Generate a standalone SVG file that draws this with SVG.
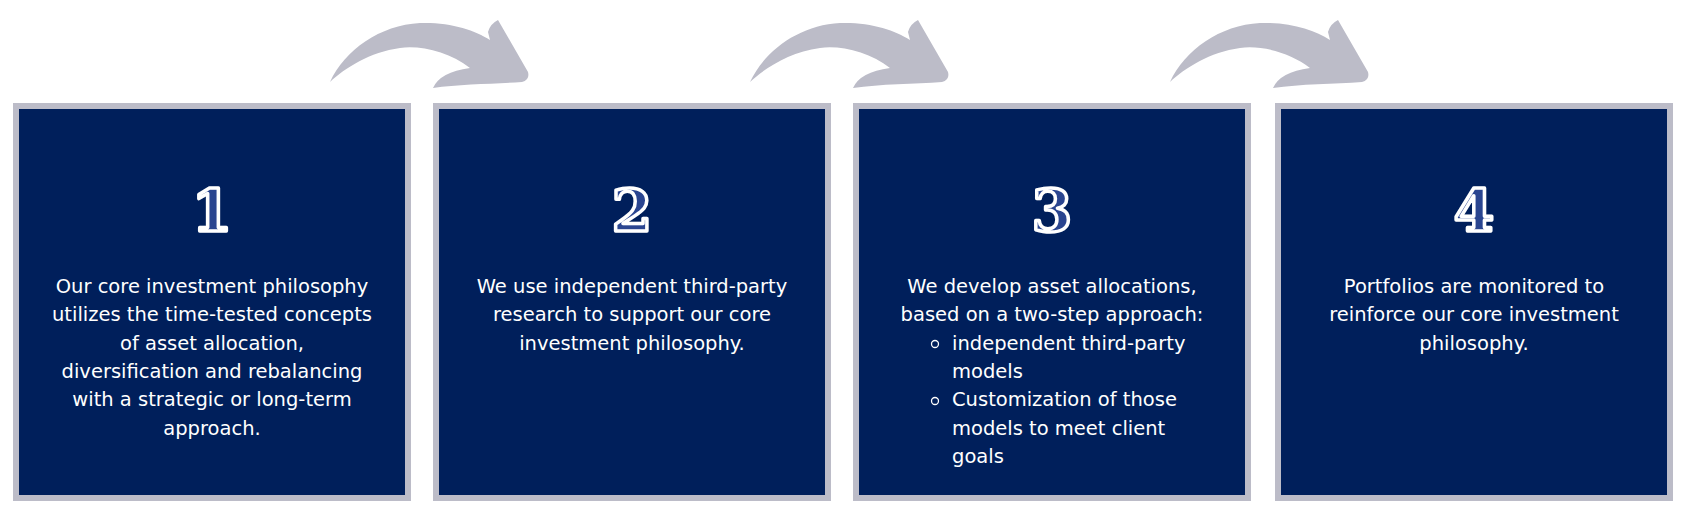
<svg xmlns="http://www.w3.org/2000/svg" width="1690" height="512" viewBox="0 0 1690 512">
<style>
.box{fill:#001f5b;stroke:#bcbcc8;stroke-width:6}
.num{font-family:"DejaVu Serif",serif;font-weight:bold;font-size:58px;fill:#2a4590;stroke:#fff;stroke-width:3.5;stroke-linejoin:round;text-anchor:middle}
.t{font-family:"DejaVu Sans",Verdana,sans-serif;font-size:19.5px;fill:#fff;text-anchor:middle}
.tl{font-family:"DejaVu Sans",Verdana,sans-serif;font-size:19.5px;fill:#fff}
.arr{fill:#bcbcc8}
</style>
<defs>
<path id="a" d="M330,82 C345,50 380,25 420,23 C450,22 475,30 490,40 L488,32 Q490,24 498,20 L528,72 Q530,80 522,82 C495,84 460,84 433,88 Q440,72 470,68 C450,52 420,45 400,48 C370,52 345,68 330,82 Z"/>
</defs>
<g id="connectors">
<use href="#a" class="arr"/>
<use href="#a" class="arr" transform="translate(420,0)"/>
<use href="#a" class="arr" transform="translate(840,0)"/>
</g>
<g id="node1">
<rect class="box" x="16" y="106" width="392" height="392"/>
<text class="num" x="212" y="231">1</text>
<text class="t" x="212" y="293">Our core investment philosophy</text>
<text class="t" x="212" y="321">utilizes the time-tested concepts</text>
<text class="t" x="212" y="350">of asset allocation,</text>
<text class="t" x="212" y="378">diversification and rebalancing</text>
<text class="t" x="212" y="406">with a strategic or long-term</text>
<text class="t" x="212" y="435">approach.</text>
</g>
<g id="node2">
<rect class="box" x="436" y="106" width="392" height="392"/>
<text class="num" x="632" y="231">2</text>
<text class="t" x="632" y="293">We use independent third-party</text>
<text class="t" x="632" y="321">research to support our core</text>
<text class="t" x="632" y="350">investment philosophy.</text>
</g>
<g id="node3">
<rect class="box" x="856" y="106" width="392" height="392"/>
<text class="num" x="1052" y="231">3</text>
<text class="t" x="1052" y="293">We develop asset allocations,</text>
<text class="t" x="1052" y="321">based on a two-step approach:</text>
<circle cx="935" cy="344" r="3.5" fill="none" stroke="#fff" stroke-width="1.3"/>
<text class="tl" x="952" y="350">independent third-party</text>
<text class="tl" x="952" y="378">models</text>
<circle cx="935" cy="401" r="3.5" fill="none" stroke="#fff" stroke-width="1.3"/>
<text class="tl" x="952" y="406">Customization of those</text>
<text class="tl" x="952" y="435">models to meet client</text>
<text class="tl" x="952" y="463">goals</text>
</g>
<g id="node4">
<rect class="box" x="1278" y="106" width="392" height="392"/>
<text class="num" x="1474" y="231">4</text>
<text class="t" x="1474" y="293">Portfolios are monitored to</text>
<text class="t" x="1474" y="321">reinforce our core investment</text>
<text class="t" x="1474" y="350">philosophy.</text>
</g>
</svg>
